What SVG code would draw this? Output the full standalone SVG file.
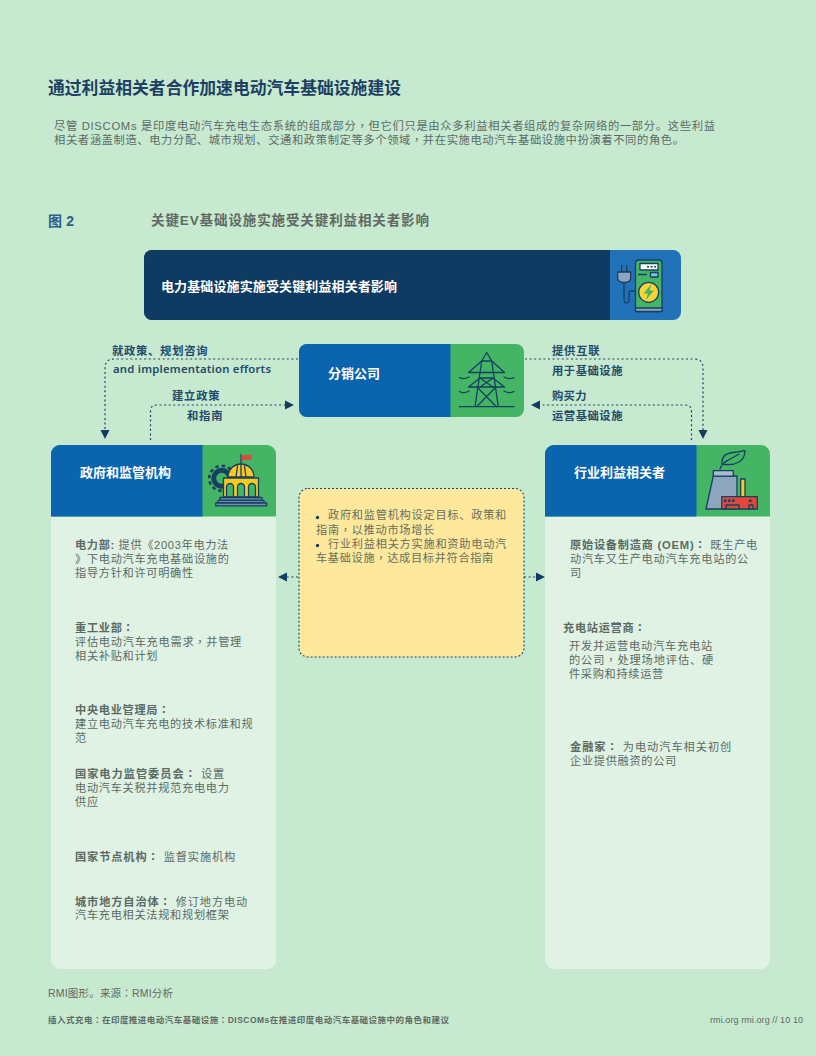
<svg xmlns="http://www.w3.org/2000/svg" width="816" height="1056" viewBox="0 0 816 1056">
<style>
text{font-family:"Liberation Sans","Noto Sans CJK SC",sans-serif}
.tc{font-family:"Noto Sans CJK TC",sans-serif}
.title{font-size:16.8px;font-weight:700;fill:#1c3f63}
.para{font-size:11.3px;fill:#5c6b68}
.fig{font-size:13.5px;font-weight:700;fill:#5f6a64}
.lab{font-size:11.3px;font-weight:700;fill:#234a6b;letter-spacing:.5px}
.en{font-family:"Noto Sans","Liberation Sans",sans-serif;font-size:11.3px;font-weight:600;fill:#234a6b}
.hd{font-size:13px;font-weight:700;fill:#fff}
.b{font-size:11.2px;fill:#5c6a64;letter-spacing:.7px}
.bb{font-weight:700}
.y{font-size:11.2px;fill:#6a6f5f;letter-spacing:.7px}
.conn{fill:none;stroke:#1f4468;stroke-width:1.2;stroke-dasharray:2 2.6}
.ic{stroke:#173f62;stroke-width:1.3;stroke-linejoin:round;stroke-linecap:round}
.ln{fill:none;stroke:#173f62;stroke-width:1.3;stroke-linecap:round;stroke-linejoin:round}
</style>
<defs>
<marker id="arr" markerUnits="userSpaceOnUse" markerWidth="10" markerHeight="10" refX="1" refY="5" orient="auto"><path d="M0 .5 9 5 0 9.500z" fill="#123c63"/></marker>
</defs>
<rect width="816" height="1056" fill="#c6e9cf"/>
<text class="title" x="48" y="94" textLength="353">通过利益相关者合作加速电动汽车基础设施建设</text>
<text class="para" x="54" y="130" textLength="661">尽管 DISCOMs 是印度电动汽车充电生态系统的组成部分<tspan class="tc">，</tspan>但它们只是由众多利益相关者组成的复杂网络的一部分。这些利益</text>
<text class="para" x="54" y="144" textLength="630">相关者涵盖制造、电力分配、城市规划、交通和政策制定等多个领域<tspan class="tc">，</tspan>并在实施电动汽车基础设施中扮演着不同的角色。</text>
<text x="48" y="226" font-size="14" font-weight="700" fill="#2a5f8a" textLength="26">图 2</text>
<text class="fig" x="151" y="225" textLength="278">关键EV基础设施实施受关键利益相关者影响</text>

<g id="connectors">
<path class="conn" d="M298 359H114Q105 359 105 368V431" marker-end="url(#arr)"/>
<path class="conn" d="M150.500 440V411Q150.500 405 157 405H286" marker-end="url(#arr)"/>
<path class="conn" d="M525 359H694Q703 359 703 368V431" marker-end="url(#arr)"/>
<path class="conn" d="M691.500 440V411Q691.500 405 685 405H539" marker-end="url(#arr)"/>
<path class="conn" d="M298 577H286" marker-end="url(#arr)"/>
<path class="conn" d="M524 577H537" marker-end="url(#arr)"/>
</g>
<g id="connector-labels">
<text class="lab" x="112" y="355" textLength="96">就政策、规划咨询</text>
<text class="en" x="113" y="373" textLength="158">and implementation efforts</text>
<text class="lab" x="172" y="400" textLength="48">建立政策</text>
<text class="lab" x="187" y="420" textLength="36">和指南</text>
<text class="lab" x="552" y="355" textLength="48">提供互联</text>
<text class="lab" x="552" y="375" textLength="71">用于基础设施</text>
<text class="lab" x="552" y="400" textLength="35">购买力</text>
<text class="lab" x="552" y="420" textLength="71">运营基础设施</text>
</g>

<g id="node-header">
<rect x="144" y="250" width="537" height="70" rx="8" fill="#2272b9"/>
<path d="M610 250H152a8 8 0 0 0-8 8v54a8 8 0 0 0 8 8H610z" fill="#0f3b63"/>
<text class="hd" x="161" y="291" textLength="236">电力基础设施实施受关键利益相关者影响</text>
<g id="icon-charger">
<rect class="ic" x="635.500" y="260" width="26.500" height="51.500" rx="3" fill="#43b565"/>
<rect class="ic" x="635.500" y="308" width="26.500" height="3.500" fill="#8ea6bd"/>
<rect class="ic" x="640" y="263.500" width="18" height="6.500" fill="#fff"/>
<path d="M647 266.700h2M650.500 266.700h2M654 266.700h2" stroke="#173f62" stroke-width="1.400"/>
<path d="M638 274.500h9" stroke="#173f62" stroke-width="1.500"/>
<rect class="ic" x="650.500" y="272.500" width="7.500" height="4.500" fill="#7cc6dc"/>
<circle class="ic" cx="648.700" cy="292.300" r="10" fill="#fdd33a"/>
<path d="M651.500 284 643.500 293.500H648L645.500 300.500 654 290.500H649.500z" fill="#43b565"/>
<path class="ln" d="M621.700 265.500V272M626.700 265.500V272"/>
<path class="ic" d="M617.700 272H630.700V277.500Q630.700 281.700 626 282.500H622.500Q617.700 281.700 617.700 277.500z" fill="#8ea6bd"/>
<path class="ln" d="M624 282.500V299Q624 303 626.500 303T629 299V293Q629 291 631 291H635.500" stroke-width="1.500"/>
</g>
</g>

<g id="node-discom">
<rect x="299" y="344" width="225" height="73" rx="8" fill="#43b565"/>
<path d="M450.500 344H307a8 8 0 0 0-8 8v57a8 8 0 0 0 8 8H450.500z" fill="#0b64ae"/>
<text class="hd" x="328" y="378" textLength="52">分销公司</text>
<g id="icon-pylon" class="ln">
<path d="M459.500 406.700H514M475 406.700 481.700 361 486.700 352.500 491.700 361 498.300 406.700M481.700 361H491.700"/>
<path d="M468.500 372.500 481.700 361M504.500 372.500 491.700 361M468.500 372.500H504.500M468.500 387 480 378 493 378 504.500 387M468.500 387H504.500"/>
<path d="M477 387 496.500 406.700M496 387 476.500 406.700M480 378 493 387M493 378 480 387"/>
<path d="M459.500 377.500Q464 380 469 377M514 377.500Q509 380 504 377M459.500 391.500Q464 394 469 391M514 391.500Q509 394 504 391"/>
</g>
</g>

<g id="node-gov">
<rect x="51" y="445" width="225" height="524" rx="9" fill="#dff2e3"/>
<path d="M51 516.500V454a9 9 0 0 1 9-9H267a9 9 0 0 1 9 9V516.500z" fill="#43b565"/>
<path d="M202.500 445H60a9 9 0 0 0-9 9V516.500H202.500z" fill="#0b64ae"/>
<text class="hd" x="80" y="477" textLength="91">政府和监管机构</text>
<g id="icon-gov">
<circle cx="221.700" cy="478.300" r="8" fill="none" stroke="#173f62" stroke-width="5"/>
<circle cx="221.700" cy="478.300" r="12.500" fill="none" stroke="#173f62" stroke-width="2.500" stroke-dasharray="3.500 3"/>
<path class="ln" d="M241 465V455"/>
<path d="M241.500 455.500 251.500 454.500V459.500L241.500 460.500z" fill="#e0483c"/>
<path class="ic" d="M228 477A13 13 0 0 1 254 477z" fill="#fdc81f"/>
<path class="ln" d="M236 477 237.500 466M241 477V465M246 477 244.500 466" stroke-width=".8"/>
<rect class="ic" x="223.500" y="478" width="35" height="19" fill="#fdc81f"/>
<path class="ic" d="M226.500 497V487A3.500 3.500 0 0 1 233.500 487V497zM237.500 497V487A3.500 3.500 0 0 1 244.500 487V497zM248.500 497V487A3.500 3.500 0 0 1 255.500 487V497z" fill="#43b565"/>
<rect class="ic" x="220" y="497.500" width="42" height="2.800" fill="#6d8dad"/>
<rect class="ic" x="218" y="500.300" width="46" height="2.700" fill="#6d8dad"/>
<rect class="ic" x="215.700" y="503" width="51" height="2.800" fill="#6d8dad"/>
</g>
<g id="gov-text">
<text class="b" x="75" y="549" textLength="154"><tspan class="bb">电力部:</tspan> 提供《2003年电力法</text>
<text class="b" x="75" y="563">》下电动汽车充电基础设施的</text>
<text class="b" x="75" y="577">指导方针和许可明确性</text>
<text class="b bb" x="75" y="632">重工业部<tspan class="tc">：</tspan></text>
<text class="b" x="75" y="646" textLength="167">评估电动汽车充电需求<tspan class="tc">，</tspan>并管理</text>
<text class="b" x="75" y="660">相关补贴和计划</text>
<text class="b bb" x="75" y="714">中央电业管理局<tspan class="tc">：</tspan></text>
<text class="b" x="75" y="727.500">建立电动汽车充电的技术标准和规</text>
<text class="b" x="75" y="742">范</text>
<text class="b" x="75" y="778" textLength="150"><tspan class="bb">国家电力监管委员会<tspan class="tc">：</tspan></tspan> 设置</text>
<text class="b" x="75" y="792">电动汽车关税并规范充电电力</text>
<text class="b" x="75" y="806">供应</text>
<text class="b" x="75" y="861" textLength="161"><tspan class="bb">国家节点机构<tspan class="tc">：</tspan></tspan> 监督实施机构</text>
<text class="b" x="75" y="906" textLength="173"><tspan class="bb">城市地方自治体<tspan class="tc">：</tspan></tspan> 修订地方电动</text>
<text class="b" x="75" y="919">汽车充电相关法规和规划框架</text>
</g>
</g>

<g id="node-industry">
<rect x="545" y="445" width="225" height="524" rx="9" fill="#dff2e3"/>
<path d="M545 516.500V454a9 9 0 0 1 9-9H761a9 9 0 0 1 9 9V516.500z" fill="#43b565"/>
<path d="M696.500 445H554a9 9 0 0 0-9 9V516.500H696.500z" fill="#0b64ae"/>
<text class="hd" x="574" y="477" textLength="91">行业利益相关者</text>
<g id="icon-factory">
<path class="ln" d="M720 469Q722 463 727 461"/>
<path class="ln" d="M722 464Q721 455 730 453Q738 452 745 450.700Q745 458 739 462Q732 466 722 464zM725 462 739 454"/>
<path class="ic" d="M713.300 476 706 509H737V476z" fill="#8ea6bd"/>
<rect class="ic" x="713.300" y="470.700" width="20" height="5.500" fill="#a9bccd"/>
<rect class="ic" x="740.700" y="479" width="4.300" height="18" fill="#fdc81f"/>
<rect class="ic" x="721.700" y="496.700" width="35.600" height="12.300" fill="#e0483c"/>
<path d="M724 499.500h2.500v2.500H724zM728 499.500h2.500v2.500H728zM732 499.500h2.500v2.500H732zM749 499.500h2.500v2.500H749z" fill="#173f62"/>
<path class="ln" d="M726 509V505H739V509M749 509V505H753V509" stroke-width="1"/>
</g>
<g id="industry-text">
<text class="b" x="570" y="549" textLength="188"><tspan class="bb">原始设备制造商 (OEM)<tspan class="tc">：</tspan></tspan> 既生产电</text>
<text class="b" x="570" y="563" textLength="179">动汽车又生产电动汽车充电站的公</text>
<text class="b" x="570" y="577">司</text>
<text class="b bb" x="563" y="632">充电站运营商<tspan class="tc">：</tspan></text>
<text class="b" x="569" y="650" textLength="144">开发并运营电动汽车充电站</text>
<text class="b" x="569" y="664" textLength="145">的公司<tspan class="tc">，</tspan>处理场地评估、硬</text>
<text class="b" x="569" y="678" textLength="95">件采购和持续运营</text>
<text class="b" x="570" y="751" textLength="162"><tspan class="bb">金融家<tspan class="tc">：</tspan></tspan> 为电动汽车相关初创</text>
<text class="b" x="570" y="765">企业提供融资的公司</text>
</g>
</g>

<g id="node-note">
<rect x="299" y="488.500" width="225" height="168.500" rx="9" fill="#fde89c" stroke="#1f4468" stroke-width="1.100" stroke-dasharray="2 2"/>
<circle cx="317.500" cy="517.500" r="1.700" fill="#123c63"/>
<text class="y" x="328" y="519" textLength="179">政府和监管机构设定目标、政策和</text>
<text class="y" x="316" y="534" textLength="119">指南<tspan class="tc">，</tspan>以推动市场增长</text>
<circle cx="317.500" cy="545.500" r="1.700" fill="#123c63"/>
<text class="y" x="328" y="548" textLength="179">行业利益相关方实施和资助电动汽</text>
<text class="y" x="316" y="562" textLength="178">车基础设施<tspan class="tc">，</tspan>达成目标并符合指南</text>
</g>

<g id="footer">
<text x="48" y="997" font-size="10.500" fill="#5f6a64" textLength="125">RMI图形。来源<tspan class="tc">：</tspan>RMI分析</text>
<text x="48" y="1023" font-size="8.500" font-weight="700" fill="#5f6a64" textLength="401">插入式充电<tspan class="tc">：</tspan>在印度推进电动汽车基础设施<tspan class="tc">：</tspan>DISCOMs在推进印度电动汽车基础设施中的角色和建议</text>
<text x="710" y="1023" font-size="9" fill="#5f6a64" textLength="93">rmi.org rmi.org // 10 10</text>
</g>
</svg>
